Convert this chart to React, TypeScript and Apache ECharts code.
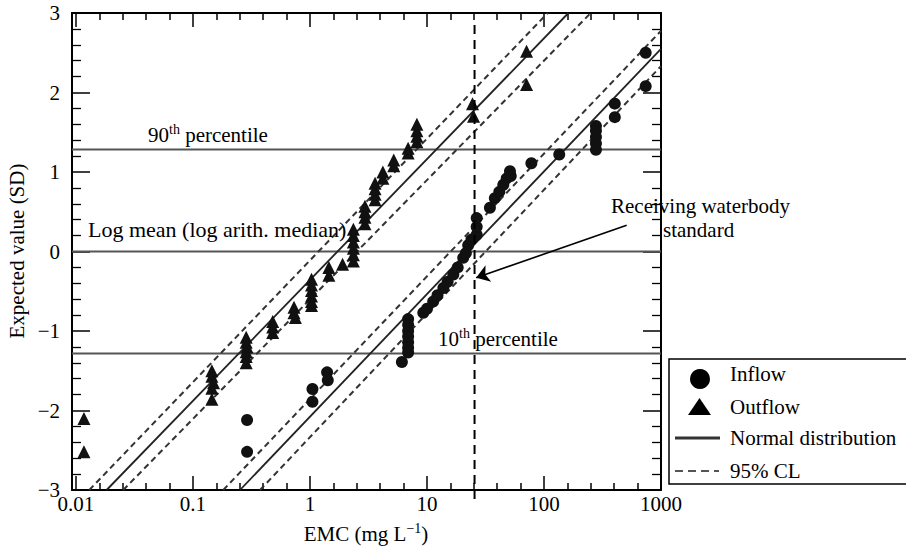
import React, { useEffect, useRef } from 'react';
import * as echarts from 'echarts';

// ---------- axis ticks ----------
const xTickValues = [0.01, 0.1, 1, 10, 100, 1000];
const xTickLabels = ['0.01', '0.1', '1', '10', '100', '1000'];
const xMinorSteps = [0.2, 0.4, 0.6, 0.8];
const xAxisMinValue = 0.00925;
const xAxisMaxValue = 1000;
const yMin = -3;
const yMax = 3;

// ---------- data (EMC in mg/L, expected value in SD) ----------
const outflowX = [0.0117, 0.0117, 0.145, 0.145, 0.15, 0.145, 0.145, 0.285, 0.285, 0.29, 0.285, 0.285, 0.285, 0.48, 0.48, 0.48, 0.73, 0.73, 0.75, 1.03, 1.03, 1.03, 1.03, 1.03, 1.03, 1.45, 1.45, 1.9, 2.35, 2.35, 2.35, 2.35, 2.35, 2.35, 2.95, 2.95, 2.95, 2.95, 3.6, 3.6, 3.6, 3.6, 4.2, 4.2, 5.2, 5.2, 6.9, 6.9, 8.2, 8.2, 8.2, 8.2, 24.5, 25, 71, 71];
const outflowY = [-2.10, -2.52, -1.50, -1.57, -1.65, -1.72, -1.86, -1.08, -1.14, -1.20, -1.26, -1.32, -1.40, -0.88, -0.95, -1.02, -0.70, -0.77, -0.83, -0.35, -0.42, -0.49, -0.56, -0.63, -0.68, -0.20, -0.30, -0.16, 0.28, 0.20, 0.12, 0.04, -0.04, -0.12, 0.35, 0.43, 0.50, 0.57, 0.65, 0.72, 0.79, 0.86, 0.92, 1.00, 1.08, 1.15, 1.24, 1.30, 1.38, 1.45, 1.52, 1.60, 1.86, 1.70, 2.52, 2.10];

const inflowX = [0.29, 0.29, 1.05, 1.05, 1.4, 1.42, 6.1, 6.9, 6.9, 6.9, 6.9, 6.9, 6.9, 6.9, 9.3, 10, 11.3, 12.3, 13.8, 15, 16.8, 18.3, 20.4, 21.5, 22.5, 24, 26.6, 26.6, 26.6, 34.5, 38, 41.5, 44.9, 48, 51.2, 52, 78, 135, 278, 278, 278, 278, 278, 403, 403, 740, 740];
const inflowY = [-2.12, -2.52, -1.73, -1.89, -1.52, -1.62, -1.39, -0.85, -0.92, -1.0, -1.07, -1.14, -1.21, -1.27, -0.77, -0.72, -0.63, -0.55, -0.46, -0.38, -0.29, -0.2, -0.08, -0.02, 0.08, 0.15, 0.21, 0.31, 0.42, 0.55, 0.67, 0.75, 0.84, 0.92, 1.01, 0.95, 1.11, 1.22, 1.28, 1.36, 1.44, 1.52, 1.58, 1.86, 1.69, 2.50, 2.08];

// fitted normal-distribution lines and 95% confidence limits (end points)
const outflowNormalX = [0.01828, 161.8];
const outflowNormalY = [-3, 3];
const outflowUpperX = [0.013, 107.6];
const outflowUpperY = [-3, 3];
const outflowLowerX = [0.02535, 250.6];
const outflowLowerY = [-3, 3];
const inflowNormalX = [0.2523, 1000];
const inflowNormalY = [-3, 2.549];
const inflowUpperX = [0.1815, 1000];
const inflowUpperY = [-3, 2.775];
const inflowLowerX = [0.374, 1000];
const inflowLowerY = [-3, 2.332];

// reference levels
const p90Level = 1.2816;
const meanLevel = 0;
const p10Level = -1.2816;
const standardValue = 25.5;
const standardYRange = [2.85, -3.12];
const arrowFrom = [509, 0.33];
const arrowTo = [26.3, -0.33];

const FONT = "'Liberation Serif', 'Times New Roman', serif";
const L = (v: number) => Math.log10(v);

function lineSeries(xs: number[], ys: number[], style: any, extra: any = {}) {
  return {
    type: 'line',
    data: xs.map((x, i) => [L(x), ys[i]]),
    showSymbol: false,
    symbol: 'none',
    silent: true,
    animation: false,
    lineStyle: style,
    z: 2,
    ...extra,
  };
}

export default function App() {
  const ref = useRef<HTMLDivElement>(null);
  useEffect(() => {
    if (!ref.current) return;
    const chart = echarts.init(ref.current, undefined, { renderer: 'svg' });
    const xMajor = xTickValues.map(L);
    const xMinor: number[] = [];
    for (let i = 0; i < xTickValues.length - 1; i++) {
      xMinorSteps.forEach((s) => xMinor.push(L(xTickValues[i]) + s));
    }
    const xmin = L(xAxisMinValue);
    const xmax = L(xAxisMaxValue);
    const axisLineStyle = { color: '#000', width: 2 };
    const tickStyle = { color: '#000', width: 1.5 };
    const baseX = {
      type: 'value',
      min: xmin,
      max: xmax,
      splitLine: { show: false },
    };
    const fmtX = (v: number) => {
      const i = xMajor.findIndex((m) => Math.abs(m - v) < 1e-6);
      return i >= 0 ? xTickLabels[i] : '';
    };
    const fmtY = (v: number) => (v < 0 ? '\u2212' + Math.abs(v) : String(v));
    const solid = { color: '#222', width: 1.8, type: 'solid' };
    const dashed = { color: '#333', width: 2, type: [6, 4] };
    const hline = { color: '#555', width: 2, type: 'solid' };
    const txt = (text: string, x: number, y: number, extra: any = {}) => ({
      type: 'text',
      x,
      y,
      z: 100,
      style: {
        text,
        fontSize: 21,
        fontFamily: FONT,
        fill: '#000',
        align: 'left',
        verticalAlign: 'middle',
        ...extra,
      },
    });
    const rich = {
      b: { fontSize: 21, fontFamily: FONT, lineHeight: 26, color: '#000' },
      s: { fontSize: 14, fontFamily: FONT, lineHeight: 22, verticalAlign: 'top', color: '#000' },
    };
    chart.setOption({
      animation: false,
      backgroundColor: '#fff',
      grid: { left: 72, right: 245, top: 13, bottom: 59 },
      xAxis: [
        {
          ...baseX,
          position: 'bottom',
          axisLine: { show: true, onZero: false, lineStyle: axisLineStyle },
          axisTick: { show: true, inside: true, length: 14, customValues: xMajor, lineStyle: tickStyle },
          axisLabel: {
            show: true,
            customValues: xMajor,
            formatter: fmtX,
            margin: 3,
            fontSize: 21,
            fontFamily: FONT,
            color: '#000',
          },
        },
        {
          ...baseX,
          position: 'bottom',
          axisLine: { show: false, onZero: false },
          axisTick: { show: true, inside: true, length: 7, customValues: xMinor, lineStyle: tickStyle },
          axisLabel: { show: false },
        },
        {
          ...baseX,
          position: 'top',
          axisLine: { show: true, onZero: false, lineStyle: axisLineStyle },
          axisTick: { show: true, inside: true, length: 14, customValues: xMajor, lineStyle: tickStyle },
          axisLabel: { show: false },
        },
        {
          ...baseX,
          position: 'top',
          axisLine: { show: false, onZero: false },
          axisTick: { show: true, inside: true, length: 7, customValues: xMinor, lineStyle: tickStyle },
          axisLabel: { show: false },
        },
      ],
      yAxis: [
        {
          type: 'value',
          min: yMin,
          max: yMax,
          interval: 1,
          position: 'left',
          axisLine: { show: true, onZero: false, lineStyle: axisLineStyle },
          axisTick: { show: true, inside: true, length: 18, lineStyle: tickStyle },
          minorTick: { show: true, splitNumber: 5, length: 9, lineStyle: { color: '#000', width: 1.3 } },
          axisLabel: { formatter: fmtY, margin: 12, fontSize: 21, fontFamily: FONT, color: '#000' },
          splitLine: { show: false },
        },
        {
          type: 'value',
          min: yMin,
          max: yMax,
          interval: 1,
          position: 'right',
          axisLine: { show: true, onZero: false, lineStyle: axisLineStyle },
          axisTick: { show: true, inside: true, length: 18, lineStyle: tickStyle },
          minorTick: { show: true, splitNumber: 5, length: 9, lineStyle: { color: '#000', width: 1.3 } },
          axisLabel: { show: false },
          splitLine: { show: false },
        },
      ],
      series: [
        lineSeries([xAxisMinValue, xAxisMaxValue], [p90Level, p90Level], hline),
        lineSeries([xAxisMinValue, xAxisMaxValue], [meanLevel, meanLevel], hline),
        lineSeries([xAxisMinValue, xAxisMaxValue], [p10Level, p10Level], hline),
        lineSeries(outflowUpperX, outflowUpperY, dashed),
        lineSeries(outflowNormalX, outflowNormalY, solid),
        lineSeries(outflowLowerX, outflowLowerY, dashed),
        lineSeries(inflowUpperX, inflowUpperY, dashed),
        lineSeries(inflowNormalX, inflowNormalY, solid),
        lineSeries(inflowLowerX, inflowLowerY, dashed),
        {
          type: 'scatter',
          name: 'Inflow',
          symbol: 'circle',
          symbolSize: 12,
          itemStyle: { color: '#111', opacity: 1 },
          data: inflowX.map((x, i) => [L(x), inflowY[i]]),
          z: 5,
          silent: true,
        },
        {
          type: 'scatter',
          name: 'Outflow',
          symbol: 'triangle',
          symbolSize: 13,
          itemStyle: { color: '#111', opacity: 1 },
          data: outflowX.map((x, i) => [L(x), outflowY[i]]),
          z: 5,
          silent: true,
        },
        lineSeries(
          [standardValue, standardValue],
          standardYRange,
          { color: '#000', width: 2, type: [9, 6] },
          {
            clip: false,
            z: 6,
            markLine: {
              silent: true,
              animation: false,
              symbol: ['none', 'arrow'],
              symbolSize: 13,
              label: { show: false },
              lineStyle: { color: '#000', width: 1.6, type: 'solid' },
              data: [[{ coord: [L(arrowFrom[0]), arrowFrom[1]] }, { coord: [L(arrowTo[0]), arrowTo[1]] }]],
            },
          }
        ),
      ],
      graphic: [
        {
          type: 'text',
          x: 148,
          y: 135,
          z: 100,
          style: { text: '{b|90}{s|th}{b| percentile}', rich, verticalAlign: 'middle', align: 'left' },
        },
        txt('Log mean (log arith. median)', 88, 229, { fontSize: 22 }),
        {
          type: 'text',
          x: 438,
          y: 339,
          z: 100,
          style: { text: '{b|10}{s|th}{b| percentile}', rich, verticalAlign: 'middle', align: 'left' },
        },
        txt('Receiving waterbody', 611, 206),
        txt('standard', 663, 230),
        {
          type: 'text',
          x: 366,
          y: 534,
          z: 100,
          style: { text: '{b|EMC (mg L}{s|\u22121}{b|)}', rich, verticalAlign: 'middle', align: 'center' },
        },
        {
          type: 'text',
          x: 17,
          y: 251,
          rotation: Math.PI / 2,
          z: 100,
          style: {
            text: 'Expected value (SD)',
            fontSize: 21,
            fontFamily: FONT,
            fill: '#000',
            align: 'center',
            verticalAlign: 'middle',
          },
        },
        // legend
        {
          type: 'rect',
          z: 90,
          shape: { x: 669, y: 359, width: 250, height: 125 },
          style: { fill: '#fff', stroke: '#000', lineWidth: 1.5 },
        },
        { type: 'circle', z: 95, shape: { cx: 700, cy: 379, r: 10 }, style: { fill: '#000' } },
        {
          type: 'polygon',
          z: 95,
          shape: { points: [[688, 415], [711, 415], [699.5, 398]] },
          style: { fill: '#000' },
        },
        {
          type: 'line',
          z: 95,
          shape: { x1: 675, y1: 438, x2: 720, y2: 438 },
          style: { stroke: '#333', lineWidth: 3 },
        },
        {
          type: 'line',
          z: 95,
          shape: { x1: 675, y1: 471, x2: 719, y2: 471 },
          style: { stroke: '#555', lineWidth: 2, lineDash: [8, 5] },
        },
        txt('Inflow', 730, 374),
        txt('Outflow', 730, 407),
        txt('Normal distribution', 730, 438),
        txt('95% CL', 730, 471),
      ],
    });
    return () => chart.dispose();
  }, []);
  return (
    <div
      ref={ref}
      style={{ position: 'fixed', left: 0, top: 0, width: 906, height: 549, background: '#fff' }}
    />
  );
}
